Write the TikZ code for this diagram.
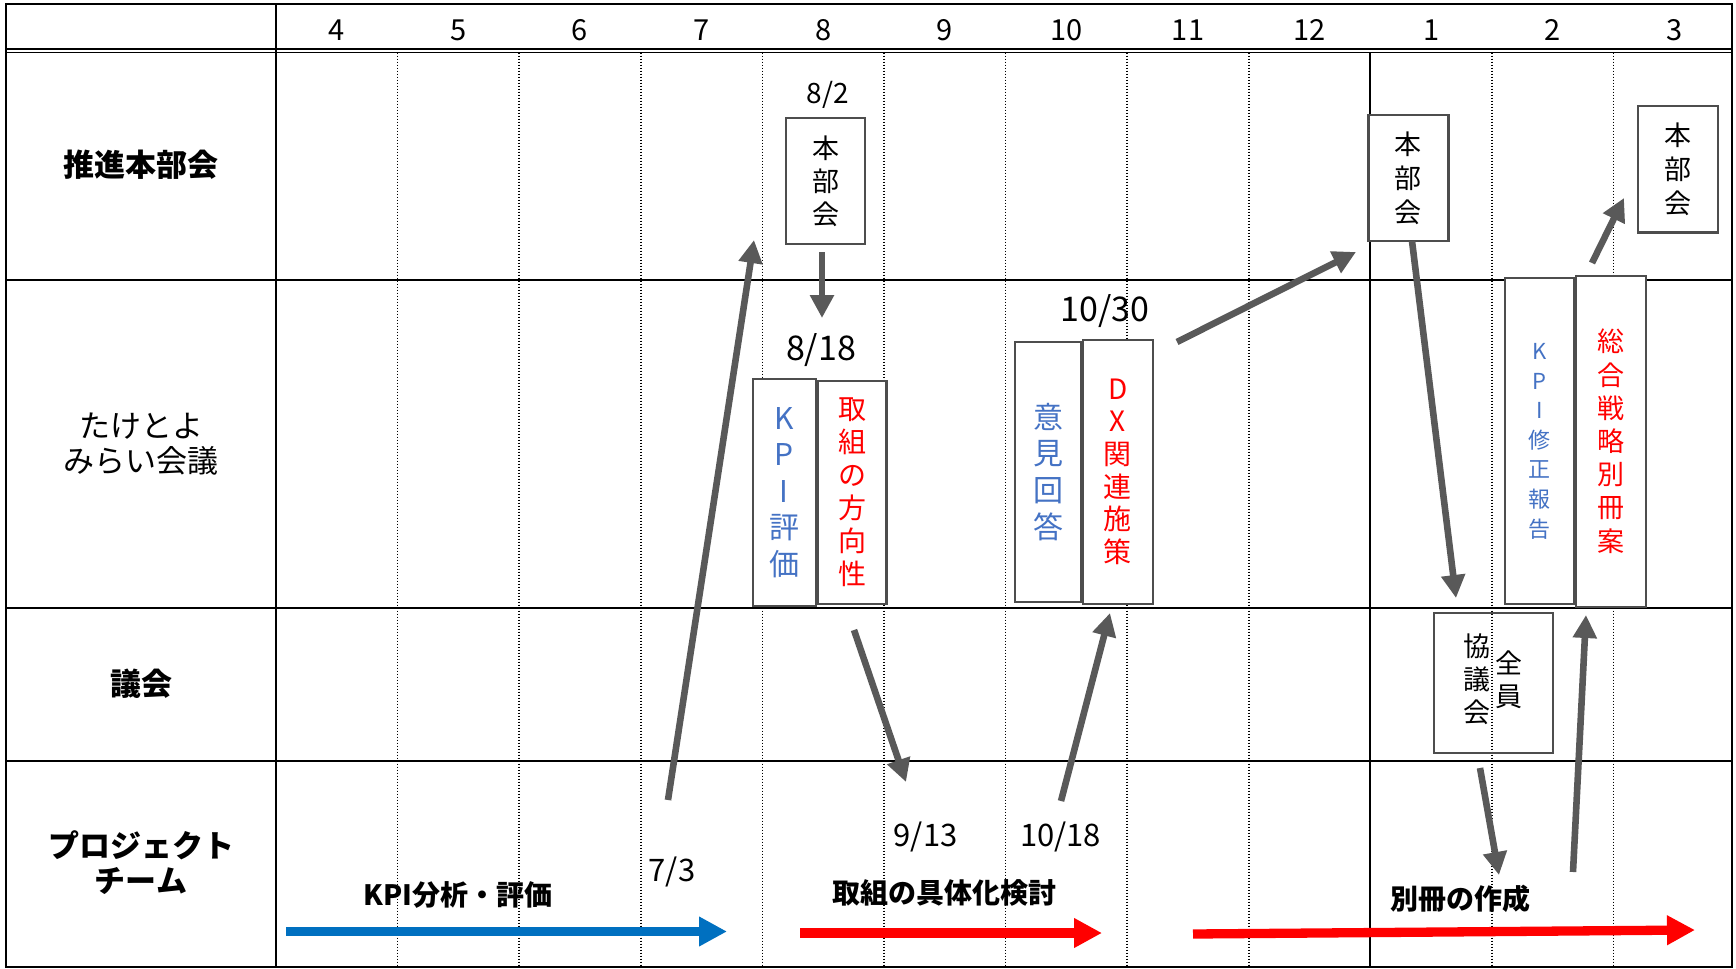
\documentclass[tikz,border=0pt]{standalone}
\usepackage{fontspec}
\setmainfont{Noto Sans CJK JP}
\usetikzlibrary{arrows.meta}
\usetikzlibrary{positioning}
\definecolor{arrowgray}{HTML}{595959}
\definecolor{boxgray}{HTML}{4D4D4D}
\definecolor{kpiblue}{HTML}{4472C4}
\definecolor{planred}{HTML}{FF0000}
\definecolor{barblue}{HTML}{0070C0}
\tikzset{
frame/.style={draw, line width=1.4pt},
rule/.style={draw, line width=1pt},
dotrule/.style={draw, line width=0.75pt, dash pattern=on 0.75pt off 0.75pt},
rowlabel/.style={font=\bfseries\fontsize{15.5}{17.5}\selectfont, align=center},
month/.style={font=\fontsize{14.5}{14.5}\selectfont},
datebig/.style={font=\fontsize{17}{17}\selectfont},
datesmall/.style={font=\fontsize{15.5}{15.5}\selectfont},
tasklabel/.style={font=\bfseries\fontsize{14}{14}\selectfont},
tatebox/.style={ % boxes with vertical text
draw=boxgray, line width=1.1pt, fill=white,
align=center, inner sep=0pt},
flow/.style={draw=arrowgray, line width=3.3pt,
-{Triangle[length=11.5pt, width=11.5pt]}},
bar/.style={line width=4.65pt, -{Triangle[length=14pt, width=14pt]}}
}
\begin{document}
\begin{tikzpicture}[x=0.5pt, y=-0.5pt]
\useasboundingbox (0,0) rectangle (1736,969);

% grid
\foreach \k in {1,2,3,4,5,6,7,8,10,11}
  \draw[dotrule] ({276+121.6*\k},52.5) -- ({276+121.6*\k},967);
\draw[rule] (1370.4,52.5) -- (1370.4,967);
\foreach \y in {279.5,607.5,760.7}
  \draw[rule] (6,\y) -- (1732,\y);
\draw[double, line width=0.8pt, double distance=0.9pt] (6,50.9) -- (1732,50.9);
\draw[rule] (276,4) -- (276,967);
\draw[frame] (6,4) rectangle (1732,967);

% months
\foreach \m [count=\i from 0] in {4,5,6,7,8,9,10,11,12,1,2,3}
  \node[month] (m\m) at ({276+121.6*(\i+0.5)},30) {\m};

% rows
\node[rowlabel] (suishin) at (141,165) {推進本部会};
\node[rowlabel, font=\fontsize{15.5}{17.5}\selectfont] (mirai) at (141,444) {たけとよ\\みらい会議};
\node[rowlabel] (gikai) at (141,684) {議会};
\node[rowlabel] (project) at (141,863) {プロジェクト\\チーム};

% boxes
\node[tatebox, minimum width=39.5pt, minimum height=63pt, font=\fontsize{13.5}{16.5}\selectfont] (hb1) at (825.5,181) {本\\部\\会};
\node[tatebox, minimum width=31.5pt, minimum height=113.5pt, text=kpiblue, font=\fontsize{15}{18.25}\selectfont] (kpi) at (784.2,492.5) {K\\P\\I\\評\\価};
\node[tatebox, minimum width=34.3pt, minimum height=111.7pt, text=planred, font=\fontsize{14}{16.5}\selectfont, right=0pt of kpi] (tori) {取\\組\\の\\方\\向\\性};
\node[tatebox, minimum width=32.7pt, minimum height=130pt, text=kpiblue, font=\fontsize{15}{18.35}\selectfont] (iken) at (1048,471.7) {意\\見\\回\\答};
\node[tatebox, minimum width=35pt, minimum height=132pt, text=planred, font=\fontsize{14}{16.35}\selectfont, right=0pt of iken] (dx) {D\\X\\関\\連\\施\\策};
\node[tatebox, minimum width=40pt, minimum height=62.9pt, font=\fontsize{13.5}{17}\selectfont] (hb2) at (1408.4,178) {本\\部\\会};
\node[tatebox, minimum width=40pt, minimum height=63.2pt, font=\fontsize{13.5}{17}\selectfont] (hb3) at (1678.2,169.2) {本\\部\\会};
\node[tatebox, minimum width=34.7pt, minimum height=163pt, text=kpiblue, font=\fontsize{11}{14.8}\selectfont] (kpis) at (1539.4,441.3) {K\\P\\I\\修\\正\\報\\告};
\node[tatebox, minimum width=34.7pt, minimum height=165.5pt, text=planred, font=\fontsize{13.5}{16.6}\selectfont, right=0pt of kpis] (sogo) {総\\合\\戦\\略\\別\\冊\\案};
\node[tatebox, fill=none, minimum width=59.5pt, minimum height=70pt, font=\fontsize{13.5}{16.5}\selectfont] (zenin) at (1493.2,683.3)
  {\begin{tabular}{@{}c@{}}協\\議\\会\end{tabular}\hspace{2.3pt}\begin{tabular}{@{}c@{}}全\\員\end{tabular}};

% dates
\node[month, font=\fontsize{14}{14}\selectfont] (d802) at (828,95) {8/2};
\node[datebig] (d818) at (821,350) {8/18};
\node[datebig] (d1030) at (1105,311) {10/30};
\node[datesmall] (d703) at (672,872) {7/3};
\node[datesmall] (d913) at (925.6,837) {9/13};
\node[datesmall] (d1018) at (1060.5,837) {10/18};

% tasks
\node[tasklabel] (kpitask) at (458,895) {KPI分析・評価};
\node[tasklabel] (toritask) at (944,893) {取組の具体化検討};
\node[tasklabel] (bessatsu) at (1460,899) {別冊の作成};

% arrow ends
\coordinate (hb1-out) at (822,252);   \coordinate (d818-in) at (822,318);
\coordinate (d703-out) at (668,800);  \coordinate (hb1-in) at (754,240);
\coordinate (tori-out) at (854,630);  \coordinate (d913-in) at (906,782);
\coordinate (d1018-out) at (1061,801); \coordinate (dx-in) at (1110,613);
\coordinate (d1030-out) at (1177,342); \coordinate (hb2-in) at (1356,252);
\coordinate (hb2-out) at (1412,241);  \coordinate (zenin-in) at (1456,598);
\coordinate (zenin-out) at (1480,768); \coordinate (bessatsu-in) at (1499,875);
\coordinate (bessatsu-out) at (1573,872); \coordinate (sogo-in) at (1586,615);
\coordinate (sogo-out) at (1592,263); \coordinate (hb3-in) at (1624,198);

\draw[flow] (hb1-out) -- (d818-in);
\draw[flow] (d703-out) -- (hb1-in);
\draw[flow] (tori-out) -- (d913-in);
\draw[flow] (d1018-out) -- (dx-in);
\draw[flow] (d1030-out) -- (hb2-in);
\draw[flow] (hb2-out) -- (zenin-in);
\draw[flow] (zenin-out) -- (bessatsu-in);
\draw[flow] (bessatsu-out) -- (sogo-in);
\draw[flow] (sogo-out) -- (hb3-in);

% bars
\coordinate (kpibar-s) at (286,931.5);  \coordinate (kpibar-e) at (727,931.5);
\coordinate (toribar-s) at (800,933);   \coordinate (toribar-e) at (1102,933);
\coordinate (bessbar-s) at (1193,934);  \coordinate (bessbar-e) at (1695,930);
\draw[bar, draw=barblue, fill=barblue] (kpibar-s) -- (kpibar-e);
\draw[bar, draw=planred, fill=planred] (toribar-s) -- (toribar-e);
\draw[bar, draw=planred, fill=planred] (bessbar-s) -- (bessbar-e);
\end{tikzpicture}
\end{document}
